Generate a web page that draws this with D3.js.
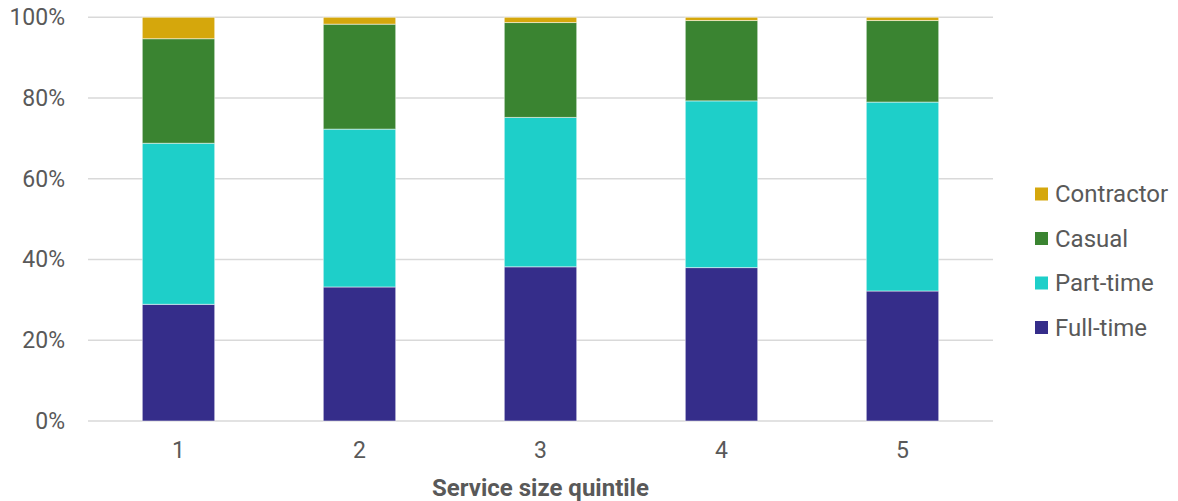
<!DOCTYPE html>
<html><head><meta charset="utf-8">
<script src="https://cdn.jsdelivr.net/npm/d3@7"></script>
<style>body{margin:0;background:#fff;} text{font-family:Roboto,"Noto Sans",sans-serif;}</style>
</head><body>
<svg id="chart" width="1178" height="501"></svg>
<script>
const categories = ["1","2","3","4","5"];
const seriesNames = ["Full-time","Part-time","Casual","Contractor"];
const fullTime   = [28.9, 33.2, 38.2, 38.0, 32.2];
const partTime   = [39.9, 39.1, 37.0, 41.3, 46.8];
const casual     = [25.9, 26.0, 23.5, 19.9, 20.2];
const contractor = [5.3, 1.7, 1.3, 0.8, 0.8];
const yTicks = [0, 20, 40, 60, 80, 100];
const colors = {"Full-time":"#352d8a","Part-time":"#1ecfc9","Casual":"#3a8431","Contractor":"#d5a70c"};

const data = categories.map((c,i)=>({cat:c,"Full-time":fullTime[i],"Part-time":partTime[i],"Casual":casual[i],"Contractor":contractor[i]}));
const svg = d3.select("#chart");
const m = {left:88, right:185, top:17.3, bottom:80};
const W = 1178, H = 501;
const x = d3.scaleBand().domain(categories).range([m.left, W-m.right]).paddingInner(0.6).paddingOuter(0.3);
const y = d3.scaleLinear().domain([0,100]).range([H-m.bottom, m.top]);

// gridlines
svg.append("g").selectAll("line").data(yTicks).join("line")
  .attr("x1", m.left).attr("x2", W-m.right)
  .attr("y1", d=>y(d)).attr("y2", d=>y(d))
  .attr("stroke","#d9d9d9").attr("stroke-width",1.5);

// y labels
const yAxis = d3.axisLeft(y).tickValues(yTicks).tickFormat(d=>d+"%").tickSize(0).tickPadding(0);
const ya = svg.append("g").attr("transform",`translate(65,0)`).call(yAxis);
ya.select(".domain").remove();
ya.selectAll("text").attr("font-size",23).attr("fill","#595959").style("font-family","Roboto");

// bars
const stack = d3.stack().keys(seriesNames)(data);
svg.append("g").selectAll("g").data(stack).join("g")
  .attr("fill", d=>colors[d.key])
  .selectAll("rect").data(d=>d).join("rect")
  .attr("x", d=>x(d.data.cat)).attr("width", x.bandwidth())
  .attr("y", d=>y(d[1])).attr("height", d=>y(d[0])-y(d[1]))
  .attr("stroke","rgba(255,255,255,0.5)").attr("stroke-width",1);

// x axis labels
const xAxis = d3.axisBottom(x).tickSize(0).tickPadding(0);
const xa = svg.append("g").attr("transform",`translate(0,${y(0)+30})`).call(xAxis);
xa.select(".domain").remove();
xa.selectAll("text").attr("font-size",23).attr("fill","#595959").attr("dy","0.32em").attr("y",0).style("font-family","Roboto");

svg.append("text").attr("x", (m.left + W-m.right)/2).attr("y", 496)
  .attr("text-anchor","middle").attr("font-size",24).attr("font-weight","bold")
  .attr("fill","#595959").text("Service size quintile");

// legend
const legendOrder = ["Contractor","Casual","Part-time","Full-time"];
const lg = svg.append("g").selectAll("g").data(legendOrder).join("g")
  .attr("transform",(d,i)=>`translate(1035,${194 + i*44.5})`);
lg.append("rect").attr("x",0).attr("y",-6.5).attr("width",13).attr("height",13).attr("fill",d=>colors[d]);
lg.append("text").attr("x",20).attr("y",0).attr("dy","0.35em").attr("font-size",24).attr("fill","#595959").text(d=>d);
</script>
</body></html>
